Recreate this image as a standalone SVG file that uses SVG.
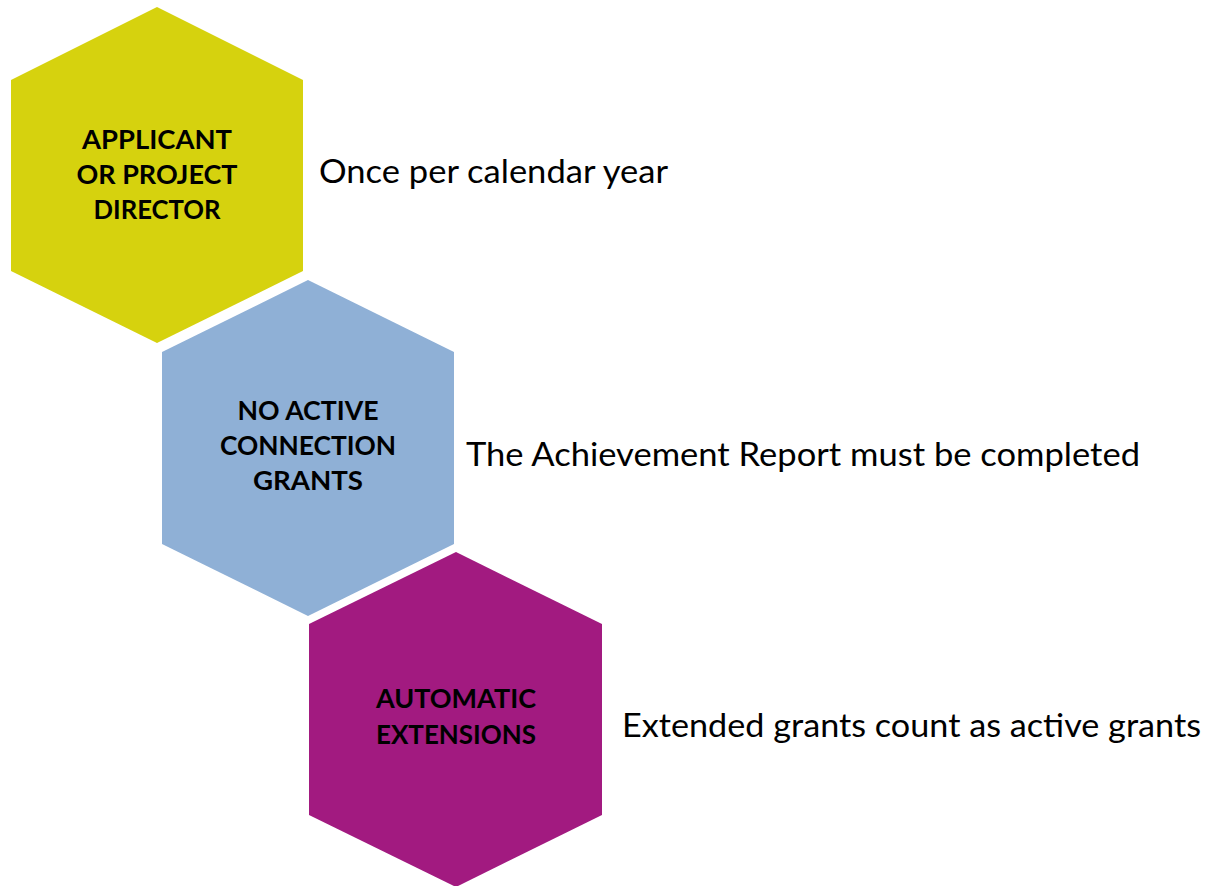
<svg xmlns="http://www.w3.org/2000/svg" width="1207" height="886" viewBox="0 0 1207 886">
<style>
.lbl{font-family:Lato,"Open Sans","Liberation Sans",sans-serif;font-weight:bold;font-size:27px;fill:#000;text-anchor:middle}
.desc{font-family:Lato,"Open Sans","Liberation Sans",sans-serif;font-size:32px;fill:#000}
</style>
<rect width="1207" height="886" fill="#fff"/>
<g id="node-applicant">
<polygon points="157,7 303,80 303,271 157,343 11,271 11,80" fill="#D6D20E"/>
<text class="lbl" x="157" y="149" textLength="150" lengthAdjust="spacingAndGlyphs">APPLICANT</text>
<text class="lbl" x="157" y="184" textLength="161" lengthAdjust="spacingAndGlyphs">OR PROJECT</text>
<text class="lbl" x="157" y="219" textLength="127" lengthAdjust="spacingAndGlyphs">DIRECTOR</text>
</g>
<g id="node-noactive">
<polygon points="308,280 454,352 454,544 308,616 162,544 162,352" fill="#8FB0D6"/>
<text class="lbl" x="308" y="420" textLength="141" lengthAdjust="spacingAndGlyphs">NO ACTIVE</text>
<text class="lbl" x="308" y="455" textLength="176" lengthAdjust="spacingAndGlyphs">CONNECTION</text>
<text class="lbl" x="308" y="490" textLength="110" lengthAdjust="spacingAndGlyphs">GRANTS</text>
</g>
<g id="node-auto">
<polygon points="456,552 602,624 602,815 456,887 309,815 309,624" fill="#A21A80"/>
<text class="lbl" x="456" y="708" textLength="160" lengthAdjust="spacingAndGlyphs">AUTOMATIC</text>
<text class="lbl" x="456" y="744" textLength="160" lengthAdjust="spacingAndGlyphs">EXTENSIONS</text>
</g>
<g id="desc-1"><text class="desc" x="319" y="183" textLength="349" lengthAdjust="spacingAndGlyphs">Once per calendar year</text></g>
<g id="desc-2"><text class="desc" x="466" y="466" textLength="674" lengthAdjust="spacingAndGlyphs">The Achievement Report must be completed</text></g>
<g id="desc-3"><text class="desc" x="622" y="737" textLength="579" lengthAdjust="spacingAndGlyphs">Extended grants count as active grants</text></g>
<g id="connectors"/>
</svg>
